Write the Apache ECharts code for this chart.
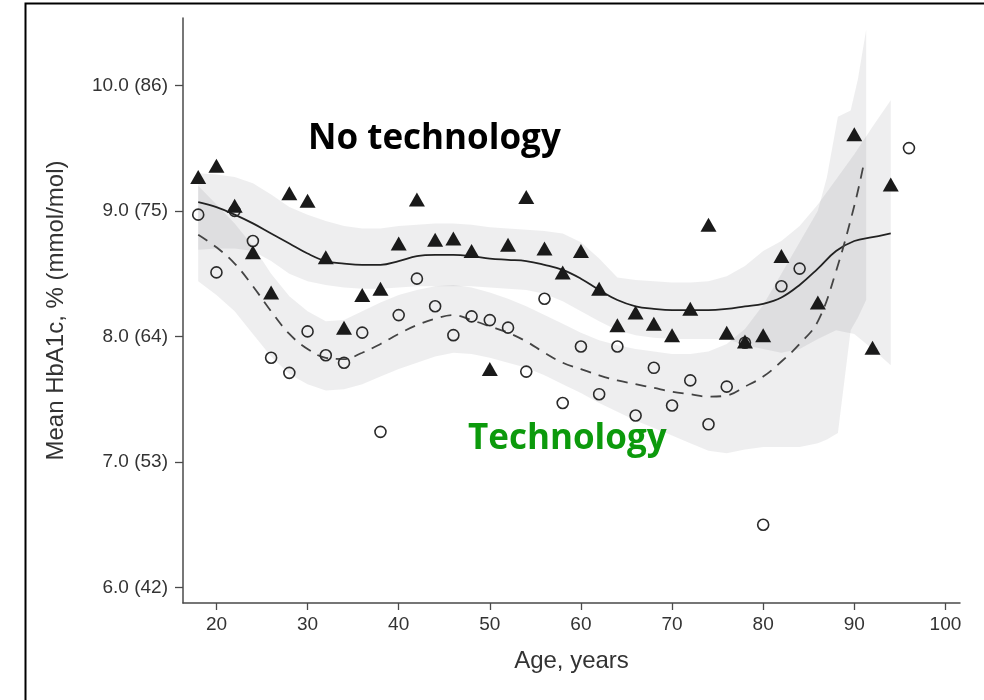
<!DOCTYPE html>
<html>
<head>
<meta charset="utf-8">
<script src="https://cdn.jsdelivr.net/npm/echarts@6/dist/echarts.min.js"></script>
<style>
  html, body { margin: 0; padding: 0; background: #fff; }
  #chart { width: 984px; height: 700px; }
</style>
</head>
<body>
<div id="chart"></div>
<script>
// ages for dots and curves (even years)
var ages = [18, 20, 22, 24, 26, 28, 30, 32, 34, 36, 38, 40, 42, 44, 46, 48, 50, 52, 54, 56, 58, 60, 62, 64, 66, 68, 70, 72, 74, 76, 78, 80, 82, 84, 86, 88, 90, 92, 94];

// no technology: triangles
var noTechAges = [18, 20, 22, 24, 26, 28, 30, 32, 34, 36, 38, 40, 42, 44, 46, 48, 50, 52, 54, 56, 58, 60, 62, 64, 66, 68, 70, 72, 74, 76, 78, 80, 82, 86, 90, 92, 94];
var noTechDots = [9.27, 9.36, 9.04, 8.67, 8.35, 9.14, 9.08, 8.63, 8.07, 8.33, 8.38, 8.74, 9.09, 8.77, 8.78, 8.68, 7.74, 8.73, 9.11, 8.70, 8.51, 8.68, 8.38, 8.09, 8.19, 8.10, 8.01, 8.22, 8.89, 8.03, 7.96, 8.01, 8.64, 8.27, 9.61, 7.91, 9.21];

// technology: open circles
var techAges = [18, 20, 22, 24, 26, 28, 30, 32, 34, 36, 38, 40, 42, 44, 46, 48, 50, 52, 54, 56, 58, 60, 62, 64, 66, 68, 70, 72, 74, 76, 78, 80, 82, 84, 96];
var techDots = [8.97, 8.51, 9.00, 8.76, 7.83, 7.71, 8.04, 7.85, 7.79, 8.03, 7.24, 8.17, 8.46, 8.24, 8.01, 8.16, 8.13, 8.07, 7.72, 8.30, 7.47, 7.92, 7.54, 7.92, 7.37, 7.75, 7.45, 7.65, 7.30, 7.60, 7.95, 6.50, 8.40, 8.54, 9.50];

// fitted curves
var noTechFit = [9.07, 9.03, 8.97, 8.90, 8.82, 8.74, 8.66, 8.60, 8.58, 8.57, 8.57, 8.60, 8.64, 8.65, 8.65, 8.64, 8.62, 8.61, 8.60, 8.57, 8.53, 8.46, 8.37, 8.29, 8.24, 8.22, 8.21, 8.21, 8.21, 8.22, 8.24, 8.26, 8.31, 8.41, 8.54, 8.68, 8.76, 8.79, 8.82];
var techFitAges = [18, 20, 22, 24, 26, 28, 30, 32, 34, 36, 38, 40, 42, 44, 46, 48, 50, 52, 54, 56, 58, 60, 62, 64, 66, 68, 70, 72, 74, 76, 78, 80, 82, 84, 86, 88, 90, 91];
var techFit = [8.81, 8.71, 8.58, 8.40, 8.20, 8.02, 7.90, 7.83, 7.82, 7.87, 7.94, 8.02, 8.09, 8.14, 8.17, 8.13, 8.08, 8.03, 7.96, 7.87, 7.79, 7.74, 7.69, 7.65, 7.62, 7.59, 7.56, 7.54, 7.52, 7.53, 7.60, 7.68, 7.80, 7.94, 8.12, 8.52, 9.04, 9.36];

// confidence bands
var noTechHigh = [9.30, 9.29, 9.27, 9.22, 9.13, 9.03, 8.97, 8.92, 8.88, 8.86, 8.86, 8.88, 8.89, 8.90, 8.90, 8.89, 8.87, 8.86, 8.85, 8.84, 8.82, 8.75, 8.62, 8.47, 8.45, 8.44, 8.43, 8.43, 8.44, 8.48, 8.56, 8.68, 8.76, 8.88, 9.05, 9.25, 9.45, 9.67, 9.88];
var noTechLow = [8.69, 8.70, 8.70, 8.68, 8.60, 8.50, 8.44, 8.41, 8.39, 8.38, 8.38, 8.39, 8.40, 8.40, 8.40, 8.40, 8.39, 8.38, 8.37, 8.34, 8.28, 8.20, 8.12, 8.05, 8.01, 7.99, 7.98, 7.98, 7.98, 7.98, 7.93, 7.90, 7.87, 7.90, 7.98, 8.05, 8.02, 7.90, 7.77];
var techBandAges = [18, 20, 22, 24, 26, 28, 30, 32, 34, 36, 38, 40, 42, 44, 46, 48, 50, 52, 54, 56, 58, 60, 62, 64, 66, 68, 70, 72, 74, 76, 78, 80, 82, 84, 86, 87, 88.2, 89.6, 90.4, 91.3];
var techHigh = [9.20, 9.05, 8.90, 8.72, 8.50, 8.32, 8.20, 8.12, 8.13, 8.20, 8.27, 8.33, 8.37, 8.40, 8.41, 8.39, 8.35, 8.30, 8.24, 8.17, 8.10, 8.03, 7.97, 7.93, 7.90, 7.88, 7.86, 7.86, 7.88, 7.94, 8.06, 8.25, 8.50, 8.75, 9.00, 9.27, 9.75, 9.80, 10.05, 10.44];
var techLow = [8.44, 8.33, 8.20, 8.02, 7.84, 7.70, 7.62, 7.57, 7.58, 7.62, 7.68, 7.74, 7.79, 7.84, 7.87, 7.86, 7.83, 7.79, 7.75, 7.69, 7.62, 7.55, 7.47, 7.40, 7.33, 7.27, 7.21, 7.15, 7.09, 7.07, 7.10, 7.12, 7.12, 7.12, 7.15, 7.18, 7.23, 8.05, 8.15, 8.29];

// axis ticks
var xTicks = [20, 30, 40, 50, 60, 70, 80, 90, 100];
var yTicks = [6, 7, 8, 9, 10];
var yTickLabels = ['6.0 (42)', '7.0 (53)', '8.0 (64)', '9.0 (75)', '10.0 (86)'];

function pairs(xs, ys) {
  return xs.map(function (x, i) { return [x, ys[i]]; });
}

// band drawn as one polygon through the axis scales
function band(name, xs, lows, highs) {
  return {
    type: 'custom',
    name: name,
    silent: true,
    z: 1,
    data: [[xs[0], lows[0]]],
    renderItem: function (params, api) {
      var pts = [];
      for (var i = 0; i < xs.length; i++) pts.push(api.coord([xs[i], highs[i]]));
      for (var j = xs.length - 1; j >= 0; j--) pts.push(api.coord([xs[j], lows[j]]));
      return {
        type: 'polygon',
        shape: { points: pts },
        style: { fill: 'rgba(60,62,72,0.085)', stroke: null }
      };
    }
  };
}

var chart = echarts.init(document.getElementById('chart'));
var axisColor = '#4a4a4a';
chart.setOption({
  animation: false,
  backgroundColor: '#fff',
  grid: { left: 183, right: 24, top: 18, bottom: 97 },
  xAxis: {
    type: 'value',
    min: 16.33,
    max: 101.6,
    name: 'Age, years',
    nameLocation: 'middle',
    nameGap: 46,
    nameTextStyle: { fontFamily: 'Liberation Sans', fontSize: 24, color: '#333' },
    axisLine: { show: true, onZero: false, lineStyle: { color: axisColor, width: 1.5 } },
    axisTick: { show: true, length: 7, customValues: xTicks, lineStyle: { color: axisColor, width: 1.3 } },
    axisLabel: { customValues: xTicks, margin: 12, fontFamily: 'Liberation Sans', fontSize: 19, color: '#333' },
    splitLine: { show: false }
  },
  yAxis: {
    type: 'value',
    min: 5.877,
    max: 10.536,
    name: 'Mean HbA1c, % (mmol/mol)',
    nameLocation: 'middle',
    nameGap: 115,
    nameTextStyle: { fontFamily: 'Liberation Sans', fontSize: 24, color: '#333' },
    axisLine: { show: true, onZero: false, lineStyle: { color: axisColor, width: 1.5 } },
    axisTick: { show: true, length: 8, customValues: yTicks, lineStyle: { color: axisColor, width: 1.3 } },
    axisLabel: {
      customValues: yTicks,
      margin: 15,
      fontFamily: 'Liberation Sans',
      fontSize: 19,
      color: '#333',
      formatter: function (v) {
        var k = yTicks.indexOf(Math.round(v));
        return k >= 0 ? yTickLabels[k] : '';
      }
    },
    splitLine: { show: false }
  },
  graphic: [
    {
      type: 'rect',
      left: 23, top: 1,
      shape: { width: 975, height: 710 },
      style: { fill: null, stroke: '#000', lineWidth: 2 },
      silent: true
    },
    {
      type: 'text',
      left: 308, top: 122,
      style: { text: 'No technology', fill: '#000', font: 'bold 35px "Open Sans"' }
    },
    {
      type: 'text',
      left: 468, top: 422,
      style: { text: 'Technology', fill: '#0c9a0c', font: 'bold 35px "Open Sans"' }
    }
  ],
  series: [
    band('noTechBand', ages, noTechLow, noTechHigh),
    band('techBand', techBandAges, techLow, techHigh),
    {
      name: 'No technology fit',
      type: 'line',
      data: pairs(ages, noTechFit),
      smooth: 0.4,
      symbol: 'none',
      z: 3,
      lineStyle: { color: '#222', width: 1.8 }
    },
    {
      name: 'Technology fit',
      type: 'line',
      data: pairs(techFitAges, techFit),
      smooth: 0.4,
      symbol: 'none',
      z: 3,
      lineStyle: { color: '#444', width: 1.8, type: [11, 8] }
    },
    {
      name: 'Technology',
      type: 'scatter',
      data: pairs(techAges, techDots),
      symbol: 'circle',
      symbolSize: 11,
      z: 4,
      itemStyle: { color: 'rgba(0,0,0,0)', borderColor: '#2a2a2a', borderWidth: 1.6, opacity: 1 }
    },
    {
      name: 'No technology',
      type: 'scatter',
      data: pairs(noTechAges, noTechDots),
      symbol: 'triangle',
      symbolSize: [16, 14],
      z: 5,
      itemStyle: { color: '#1a1a1a', opacity: 1 }
    }
  ]
});
</script>
</body>
</html>
